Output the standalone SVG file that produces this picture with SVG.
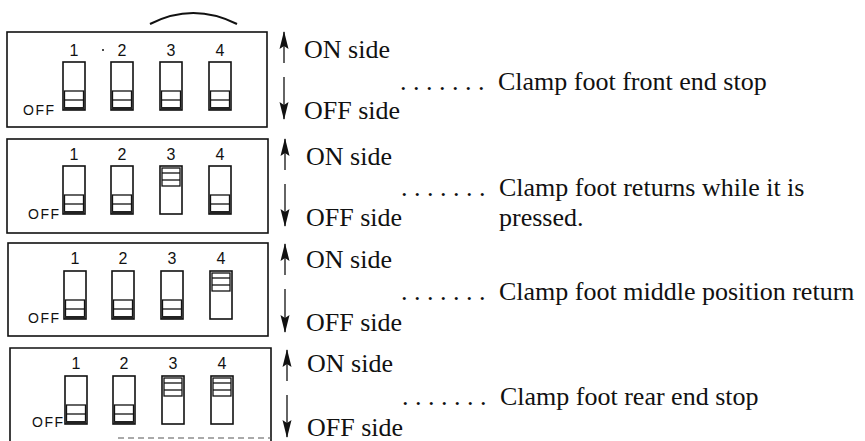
<svg xmlns="http://www.w3.org/2000/svg" width="865" height="441" viewBox="0 0 865 441">
<style>
.box{fill:none;stroke:#111;stroke-width:1.6}
.sw{fill:#fff;stroke:#111;stroke-width:1.6}
.kn{fill:none;stroke:#111;stroke-width:1.3}
.band{stroke:#222;stroke-width:3}
.num{font-family:"Liberation Sans",Arial,sans-serif;font-size:16px;fill:#111;text-anchor:middle}
.off{font-family:"Liberation Sans",Arial,sans-serif;font-size:14px;fill:#111;letter-spacing:1.5px}
.lbl{font-family:"Liberation Serif","Times New Roman",serif;font-size:26px;fill:#111}
.arr{stroke:#111;stroke-width:1.3;fill:none;marker-end:url(#ah)}
</style>
<defs>
<marker id="ah" markerUnits="userSpaceOnUse" markerWidth="18" markerHeight="10" refX="17" refY="5" orient="auto">
<path d="M0,0.5 L18,5 L0,9.5 L3,5 z" fill="#111"/>
</marker>
<g id="swOff">
<rect class="sw" x="0" y="0" width="22" height="48"/>
<rect class="kn" x="1.5" y="29" width="19" height="18"/>
<line class="kn" x1="1.5" y1="38" x2="20.5" y2="38"/>
<line class="band" x1="1" y1="46.5" x2="21" y2="46.5"/>
</g>
<g id="swOn">
<rect class="sw" x="0" y="0" width="22" height="48"/>
<rect class="kn" x="2" y="2" width="18" height="18"/>
<line class="kn" x1="2" y1="7" x2="20" y2="7"/>
<line class="kn" x1="2" y1="14" x2="20" y2="14"/>
</g>
</defs>
<rect width="865" height="441" fill="#fff"/>
<path d="M150,24 Q193,2 237,24" fill="none" stroke="#111" stroke-width="2"/>

<g id="panel1">
<rect class="box" x="7" y="32" width="260" height="95"/>
<text class="num" x="74" y="56">1</text>
<circle cx="103" cy="50" r="1" fill="#111"/>
<text class="num" x="122" y="56">2</text>
<text class="num" x="171" y="56">3</text>
<text class="num" x="220" y="56">4</text>
<text class="off" x="23" y="115">OFF</text>
<use href="#swOff" x="63" y="62"/>
<use href="#swOff" x="111" y="62"/>
<use href="#swOff" x="160" y="62"/>
<use href="#swOff" x="209" y="62"/>
</g>

<g id="panel2">
<rect class="box" x="7" y="139" width="261" height="94"/>
<text class="num" x="74" y="160">1</text>
<text class="num" x="122" y="160">2</text>
<text class="num" x="171" y="160">3</text>
<text class="num" x="220" y="160">4</text>
<text class="off" x="28" y="219">OFF</text>
<use href="#swOff" x="63" y="166"/>
<use href="#swOff" x="111" y="166"/>
<use href="#swOn" x="160" y="166"/>
<use href="#swOff" x="209" y="166"/>
</g>

<g id="panel3">
<rect class="box" x="8" y="243" width="260" height="93"/>
<text class="num" x="75" y="264">1</text>
<text class="num" x="123" y="264">2</text>
<text class="num" x="172" y="264">3</text>
<text class="num" x="221" y="264">4</text>
<text class="off" x="28" y="323">OFF</text>
<use href="#swOff" x="64" y="271"/>
<use href="#swOff" x="112" y="271"/>
<use href="#swOff" x="161" y="271"/>
<use href="#swOn" x="210" y="271"/>
</g>

<g id="panel4">
<path class="box" d="M10,441 L10,348 L271,348 L271,441"/>
<line x1="118" y1="438" x2="271" y2="438" stroke="#555" stroke-width="1" stroke-dasharray="6,4"/>
<text class="num" x="76" y="369">1</text>
<text class="num" x="124" y="369">2</text>
<text class="num" x="173" y="369">3</text>
<text class="num" x="222" y="369">4</text>
<text class="off" x="32" y="427">OFF</text>
<use href="#swOff" x="65" y="376"/>
<use href="#swOff" x="113" y="376"/>
<use href="#swOn" x="162" y="376"/>
<use href="#swOn" x="211" y="376"/>
</g>

<g id="connectors">
<line class="arr" x1="284" y1="63" x2="284" y2="32"/>
<line class="arr" x1="284" y1="77" x2="284" y2="119"/>
<line class="arr" x1="285" y1="170" x2="285" y2="139"/>
<line class="arr" x1="285" y1="184" x2="285" y2="226"/>
<line class="arr" x1="285" y1="275" x2="285" y2="244"/>
<line class="arr" x1="285" y1="289" x2="285" y2="332"/>
<line class="arr" x1="287" y1="381" x2="287" y2="350"/>
<line class="arr" x1="287" y1="395" x2="287" y2="437"/>
</g>

<g id="labels">
<text class="lbl" x="304" y="58">ON side</text>
<text class="lbl" x="304" y="119">OFF side</text>
<text class="lbl" x="400" y="90">. . . . . . .</text>
<text class="lbl" x="498" y="90">Clamp foot front end stop</text>

<text class="lbl" x="306" y="165">ON side</text>
<text class="lbl" x="306" y="226">OFF side</text>
<text class="lbl" x="401" y="196">. . . . . . .</text>
<text class="lbl" x="499" y="196">Clamp foot returns while it is</text>
<text class="lbl" x="499" y="226">pressed.</text>

<text class="lbl" x="306" y="268">ON side</text>
<text class="lbl" x="306" y="331">OFF side</text>
<text class="lbl" x="401" y="300">. . . . . . .</text>
<text class="lbl" x="499" y="300">Clamp foot middle position return</text>

<text class="lbl" x="307" y="372">ON side</text>
<text class="lbl" x="307" y="436">OFF side</text>
<text class="lbl" x="402" y="405">. . . . . . .</text>
<text class="lbl" x="500" y="405">Clamp foot rear end stop</text>
</g>
</svg>
